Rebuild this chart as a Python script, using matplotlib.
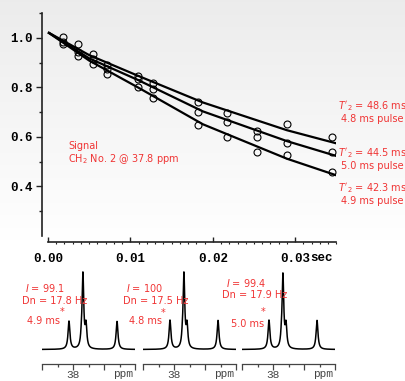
import numpy as np
import matplotlib
matplotlib.use("Agg")
import matplotlib.pyplot as plt
from matplotlib.ticker import FixedLocator, MultipleLocator

# ---------------- data ----------------
t_points = [0.0018, 0.0036, 0.0055, 0.0072, 0.0109, 0.0127, 0.0182, 0.0217, 0.0254, 0.0290, 0.0345]
sig_48_ms = [1.003, 0.976, 0.935, 0.890, 0.845, 0.816, 0.739, 0.696, 0.624, 0.651, 0.600]
sig_50_ms = [0.983, 0.942, 0.915, 0.874, 0.834, 0.793, 0.699, 0.660, 0.601, 0.577, 0.540]
sig_49_ms = [0.975, 0.926, 0.894, 0.854, 0.800, 0.757, 0.648, 0.600, 0.540, 0.529, 0.459]

t_fit = [0.0, 0.005, 0.0109, 0.0188, 0.029, 0.035]
fit_48_ms = [1.022, 0.930, 0.847, 0.739, 0.627, 0.574]
fit_50_ms = [1.022, 0.917, 0.830, 0.703, 0.583, 0.523]
fit_49_ms = [1.022, 0.908, 0.800, 0.651, 0.512, 0.445]

fit_labels = ["$T'_2$ = 48.6 ms\n4.8 ms pulse",
              "$T'_2$ = 44.5 ms\n5.0 ms pulse",
              "$T'_2$ = 42.3 ms\n4.9 ms pulse"]

x_ticks = [0.00, 0.01, 0.02, 0.03]
x_ticklabels = ["0.00", "0.01", "0.02", "0.03"]
y_ticks = [0.4, 0.6, 0.8, 1.0]
y_ticklabels = ["0.4", "0.6", "0.8", "1.0"]

# spectra: peak positions (ppm), heights per panel, half widths
peak_ppm = [38.065, 37.865, 37.84, 37.79, 37.29]
peak_hw = [0.018, 0.014, 0.016, 0.016, 0.018]
spec_heights = [[28, 6, 74, 22, 28],
                [29, 6, 74, 22, 29],
                [29, 6, 73, 22, 29]]
spec_I = ["99.1", "100", "99.4"]
spec_dn = ["17.8", "17.5", "17.9"]
spec_pulse = ["4.9 ms", "4.8 ms", "5.0 ms"]

# ---------------- figure ----------------
W, H = 406, 381
fig = plt.figure(figsize=(W / 100, H / 100), dpi=100)
red = "#f03434"


def rect(x0, y0, x1, y1):
    return [x0 / W, 1 - y1 / H, (x1 - x0) / W, (y1 - y0) / H]


def fx(x):
    return x / W


def fy(y):
    return 1 - y / H


# background gradient
bg = fig.add_axes([0, 0, 1, 1], zorder=-10)
grad = np.ones((H, 1))
top_v, fade_end = 0.925, 240
rows = np.arange(H)
grad[:, 0] = np.where(rows < fade_end, top_v + (1 - top_v) * rows / fade_end, 1.0)
bg.imshow(np.dstack([grad, grad, grad]), aspect="auto", extent=[0, 1, 0, 1])
bg.axis("off")

# ---------------- main axes ----------------
ax = fig.add_axes(rect(42, 13, 336.4, 242))
ax.set_facecolor("none")
ax.set_xlim(-0.00073, 0.035)
ax.set_ylim(0.176, 1.1)

for tf, yf in [(t_fit, fit_48_ms), (t_fit, fit_50_ms), (t_fit, fit_49_ms)]:
    ax.plot(tf, yf, color="black", lw=1.6, solid_capstyle="butt", zorder=2)
for ys in [sig_48_ms, sig_50_ms, sig_49_ms]:
    ax.plot(t_points, ys, "o", ms=5.0, mfc="none", mec="black", mew=0.8, zorder=3)

for s in ["top", "right"]:
    ax.spines[s].set_visible(False)
ax.spines["left"].set_bounds(0.2, 1.1)
ax.spines["bottom"].set_bounds(0.0, 0.035)
for s in ["left", "bottom"]:
    ax.spines[s].set_color("#222222")
    ax.spines[s].set_linewidth(1.2)

mono = dict(family="Liberation Mono", weight="bold", size=9)
ax.yaxis.set_major_locator(FixedLocator(y_ticks))
ax.set_yticklabels(y_ticklabels, **mono)
ax.yaxis.set_minor_locator(FixedLocator([0.3, 0.5, 0.7, 0.9, 1.1]))
ax.tick_params(axis="y", which="major", direction="out", length=4, width=1, pad=3, color="#222222")
ax.tick_params(axis="y", which="minor", direction="out", length=2, width=1, color="#222222")

ax.xaxis.set_major_locator(FixedLocator(x_ticks))
ax.set_xticklabels(x_ticklabels, **mono)
ax.xaxis.set_minor_locator(MultipleLocator(0.001))
ax.tick_params(axis="x", which="major", direction="in", length=3.5, width=1, pad=8, color="#222222")
ax.tick_params(axis="x", which="minor", direction="out", length=1.5, width=0.8, color="#222222")
fig.text(fx(310), fy(258), "sec", ha="left", va="center", **mono)

# labels in main panel
sans = dict(family="DejaVu Sans", size=7.0, color=red)
fig.text(fx(68), fy(146), "Signal", ha="left", va="center", **sans)
fig.text(fx(68), fy(159), "CH$_2$ No. 2 @ 37.8 ppm", ha="left", va="center", **sans)
for lab, yc in zip(fit_labels, [112, 159, 194]):
    fig.text(fx(372), fy(yc), lab, ha="center", va="center", linespacing=1.15, **sans)

# ---------------- spectra ----------------
ppm = np.linspace(38.5, 37.0, 1200)
panel_x0 = [42, 143, 242]
label_pos = [  # (I x, I y, Dn x, Dn y, pulse x, pulse y, star x, star y)
    (25, 288, 22, 301, 27, 321, 62, 312),
    (126, 288, 123, 301, 129, 321, 163, 313),
    (226, 283, 222, 295, 231, 324, 263, 312),
]
for i, x0 in enumerate(panel_x0):
    sax = fig.add_axes(rect(x0, 262, x0 + 93, 364))
    sax.set_facecolor("none")
    spec = np.zeros_like(ppm)
    for p, h, w in zip(peak_ppm, spec_heights[i], peak_hw):
        spec += h / (1 + ((ppm - p) / w) ** 2)
    sax.plot(ppm, spec - 1.5, color="black", lw=1.1)
    sax.set_xlim(38.5, 37.0)
    sax.set_ylim(-16, 86)
    for s in ["top", "right", "left"]:
        sax.spines[s].set_visible(False)
    sax.spines["bottom"].set_color("#444444")
    sax.spines["bottom"].set_linewidth(0.9)
    sax.set_yticks([])
    sax.xaxis.set_major_locator(FixedLocator([38.5, 38.0, 37.5, 37.0]))
    sax.xaxis.set_minor_locator(FixedLocator([38.25, 37.75, 37.25]))
    sax.set_xticklabels(["", "38", "", ""], family="Liberation Mono", size=8, color="#444444")
    sax.tick_params(axis="x", which="major", direction="out", length=4, width=0.9, pad=0.5, color="#444444")
    sax.tick_params(axis="x", which="minor", direction="out", length=2.5, width=0.9, color="#444444")
    fig.text(fx(x0 + 81), fy(374), "ppm", ha="center", va="center",
             family="Liberation Mono", size=8, color="#444444")

    ix, iy, dx, dy, px_, py_, sx, sy = label_pos[i]
    fig.text(fx(ix), fy(iy), "$I$ = " + spec_I[i], ha="left", va="center", **sans)
    fig.text(fx(dx), fy(dy), "Dn = " + spec_dn[i] + " Hz", ha="left", va="center", **sans)
    fig.text(fx(px_), fy(py_), spec_pulse[i], ha="left", va="center", **sans)
    fig.text(fx(sx), fy(sy), "*", ha="center", va="center", **sans)

fig.savefig("out.png", dpi=100)
